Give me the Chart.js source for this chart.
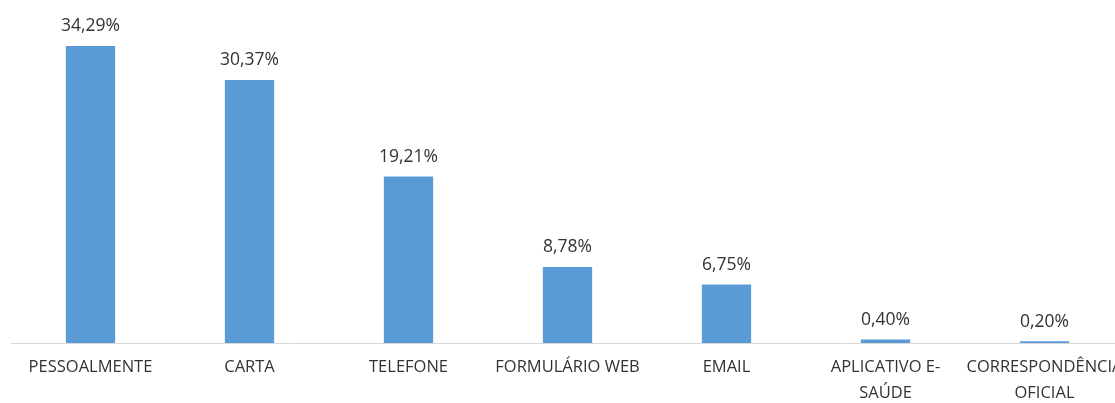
<!DOCTYPE html>
<html>
<head>
<meta charset="utf-8">
<script src="https://cdn.jsdelivr.net/npm/chart.js@4"></script>
<style>
    body { margin: 0; overflow: hidden; background: #fff; }
    #canalChart { position: absolute; left: 0; top: 0; }
</style>
</head>
<body>
<canvas id="canalChart" width="1124" height="403"></canvas>
<script>
// Chart data
const categories = [
    'PESSOALMENTE',
    'CARTA',
    'TELEFONE',
    'FORMULÁRIO WEB',
    'EMAIL',
    ['APLICATIVO E-', 'SAÚDE'],
    ['CORRESPONDÊNCIA', 'OFICIAL']
];
const percentages = [34.29, 30.37, 19.21, 8.78, 6.75, 0.40, 0.20];
const valueLabels = ['34,29%', '30,37%', '19,21%', '8,78%', '6,75%', '0,40%', '0,20%'];

const fontFamily = '"Open Sans", sans-serif';
const textColor = '#333333';

// Draws the value above each bar
const valueLabelPlugin = {
    id: 'valueLabels',
    afterDatasetsDraw(chart) {
        const ctx = chart.ctx;
        const meta = chart.getDatasetMeta(0);
        ctx.save();
        ctx.font = '17.5px ' + fontFamily;
        ctx.fillStyle = textColor;
        ctx.textAlign = 'center';
        ctx.textBaseline = 'bottom';
        meta.data.forEach((bar, i) => {
            ctx.fillText(valueLabels[i], bar.x, bar.y - 11);
        });
        ctx.restore();
    }
};

const chartContext = document.getElementById('canalChart').getContext('2d');
new Chart(chartContext, {
    type: 'bar',
    data: {
        labels: categories,
        datasets: [{
            data: percentages,
            backgroundColor: '#5B9BD5',
            categoryPercentage: 1,
            barPercentage: 0.31
        }]
    },
    options: {
        responsive: false,
        animation: false,
        layout: { padding: { left: 11, right: 0, top: 0, bottom: 0 } },
        plugins: {
            legend: { display: false },
            tooltip: { enabled: false }
        },
        scales: {
            x: {
                grid: { display: false, drawTicks: false },
                border: { display: true, color: '#D9D9D9', width: 1 },
                ticks: {
                    color: textColor,
                    font: { family: fontFamily, size: 16.5, lineHeight: 1.55 },
                    padding: 12,
                    maxRotation: 0,
                    autoSkip: false
                },
                afterFit(scale) {
                    // keep the axis band fixed and let the last label run off the edge
                    scale.height = 60;
                    scale.paddingLeft = 0;
                    scale.paddingRight = 0;
                }
            },
            y: {
                display: false,
                min: 0,
                max: 39.6
            }
        }
    },
    plugins: [valueLabelPlugin]
});
</script>
</body>
</html>
